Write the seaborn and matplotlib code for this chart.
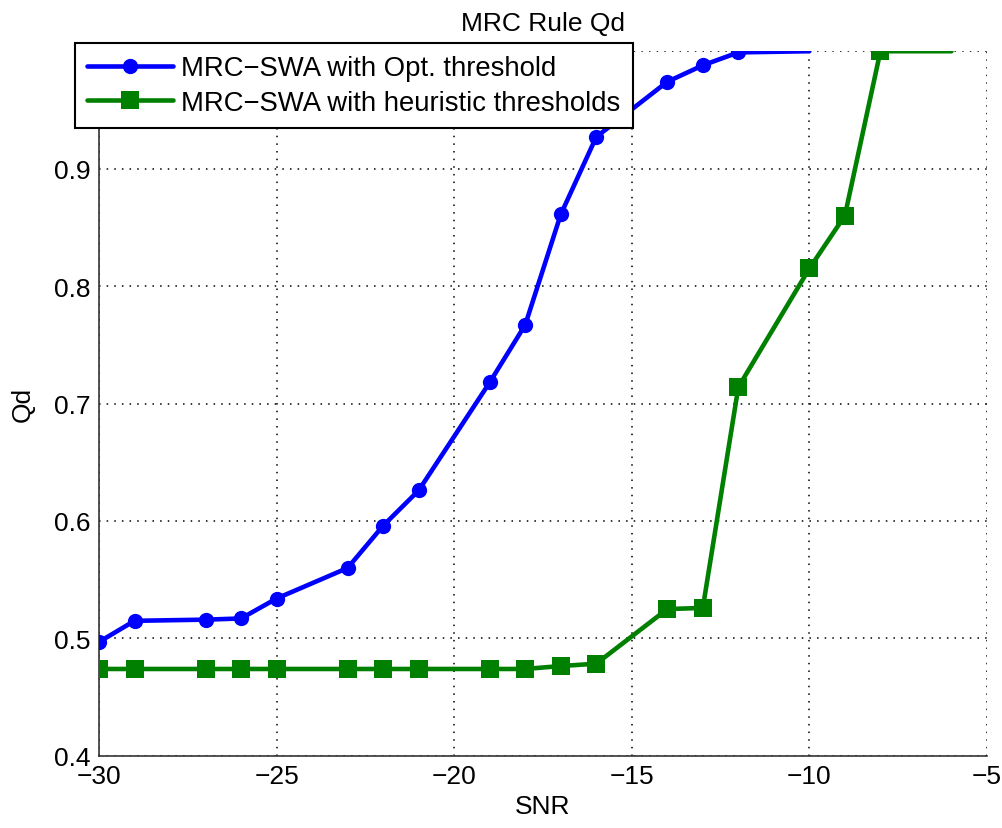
import matplotlib
matplotlib.use("Agg")
import matplotlib.pyplot as plt
import seaborn as sns
import pandas as pd

# SNR (dB) and detection quality Qd for the two schemes
snr_opt = [-30, -29, -27, -26, -25, -23, -22, -21, -19, -18, -17, -16, -14, -13, -12, -10]
qd_opt = [0.497, 0.515, 0.516, 0.517, 0.534, 0.560, 0.596, 0.626, 0.718, 0.767,
          0.861, 0.927, 0.974, 0.988, 0.999, 1.0]

snr_heur = [-30, -29, -27, -26, -25, -23, -22, -21, -19, -18, -17, -16, -14, -13,
            -12, -10, -9, -8, -6]
qd_heur = [0.474, 0.474, 0.474, 0.474, 0.474, 0.474, 0.474, 0.474, 0.474, 0.474,
           0.4765, 0.4785, 0.525, 0.526, 0.714, 0.815, 0.860, 1.0, 1.0]

label_opt = "MRC\u2212SWA with Opt. threshold"
label_heur = "MRC\u2212SWA with heuristic thresholds"

x_ticks = [-30, -25, -20, -15, -10, -5]
y_ticks = [0.4, 0.5, 0.6, 0.7, 0.8, 0.9, 1.0]
y_tick_labels = ["0.4", "0.5", "0.6", "0.7", "0.8", "0.9", "1"]

sns.set_style("white")
plt.rcParams["font.family"] = ["Liberation Sans", "DejaVu Sans"]
plt.rcParams["xtick.direction"] = "in"
plt.rcParams["ytick.direction"] = "in"
plt.rcParams["text.color"] = "black"
plt.rcParams["axes.labelcolor"] = "black"

df_opt = pd.DataFrame({"SNR": snr_opt, "Qd": qd_opt})
df_heur = pd.DataFrame({"SNR": snr_heur, "Qd": qd_heur})

fig = plt.figure(figsize=(10.02, 8.29), dpi=100)
ax = fig.add_axes([0.0988, 0.087, 0.8862, 0.850])

sns.lineplot(data=df_opt, x="SNR", y="Qd", ax=ax, color=(0, 0, 1), linewidth=3.3,
             marker="o", markersize=11, markeredgewidth=0, label=label_opt,
             markevery=list(range(len(snr_opt) - 1)), zorder=3)
sns.lineplot(data=df_heur, x="SNR", y="Qd", ax=ax, color=(0, 0.5, 0), linewidth=3.3,
             marker="s", markersize=12.5, markeredgewidth=0, label=label_heur,
             markevery=list(range(len(snr_heur) - 1)), zorder=3)

ax.set_xlim(-30, -5)
ax.set_ylim(0.4, 1.0)
ax.set_xticks(x_ticks)
ax.set_xticklabels([f"\u2212{abs(v)}" for v in x_ticks])
ax.set_yticks(y_ticks)
ax.set_yticklabels(y_tick_labels)
ax.tick_params(axis="both", labelsize=19, length=5, width=1, colors="black",
               pad=6)

ax.grid(True, linestyle=(0, (1, 4)), color="black", linewidth=1.1)
ax.set_axisbelow(True)
for side in ("top", "right"):
    ax.spines[side].set_visible(False)
for side in ("left", "bottom"):
    ax.spines[side].set_color("#333333")
    ax.spines[side].set_linewidth(1.2)

ax.set_title("MRC Rule Qd", fontsize=19, pad=15, color="black")
ax.set_xlabel("SNR", fontsize=19, labelpad=4)
ax.set_ylabel("Qd", fontsize=19, labelpad=14)

leg = ax.legend(loc="upper left", bbox_to_anchor=(75 / 1002, 1 - 44 / 829),
                bbox_transform=fig.transFigure, fontsize=19.8, frameon=True,
                fancybox=False, edgecolor="black", framealpha=1,
                borderpad=0.45, labelspacing=0.3, handlelength=3.1,
                handletextpad=0.3, borderaxespad=0)
leg.get_frame().set_linewidth(1.5)
leg.set_zorder(10)
for txt in leg.get_texts():
    txt.set_color("black")

fig.savefig("out.png", dpi=100)
